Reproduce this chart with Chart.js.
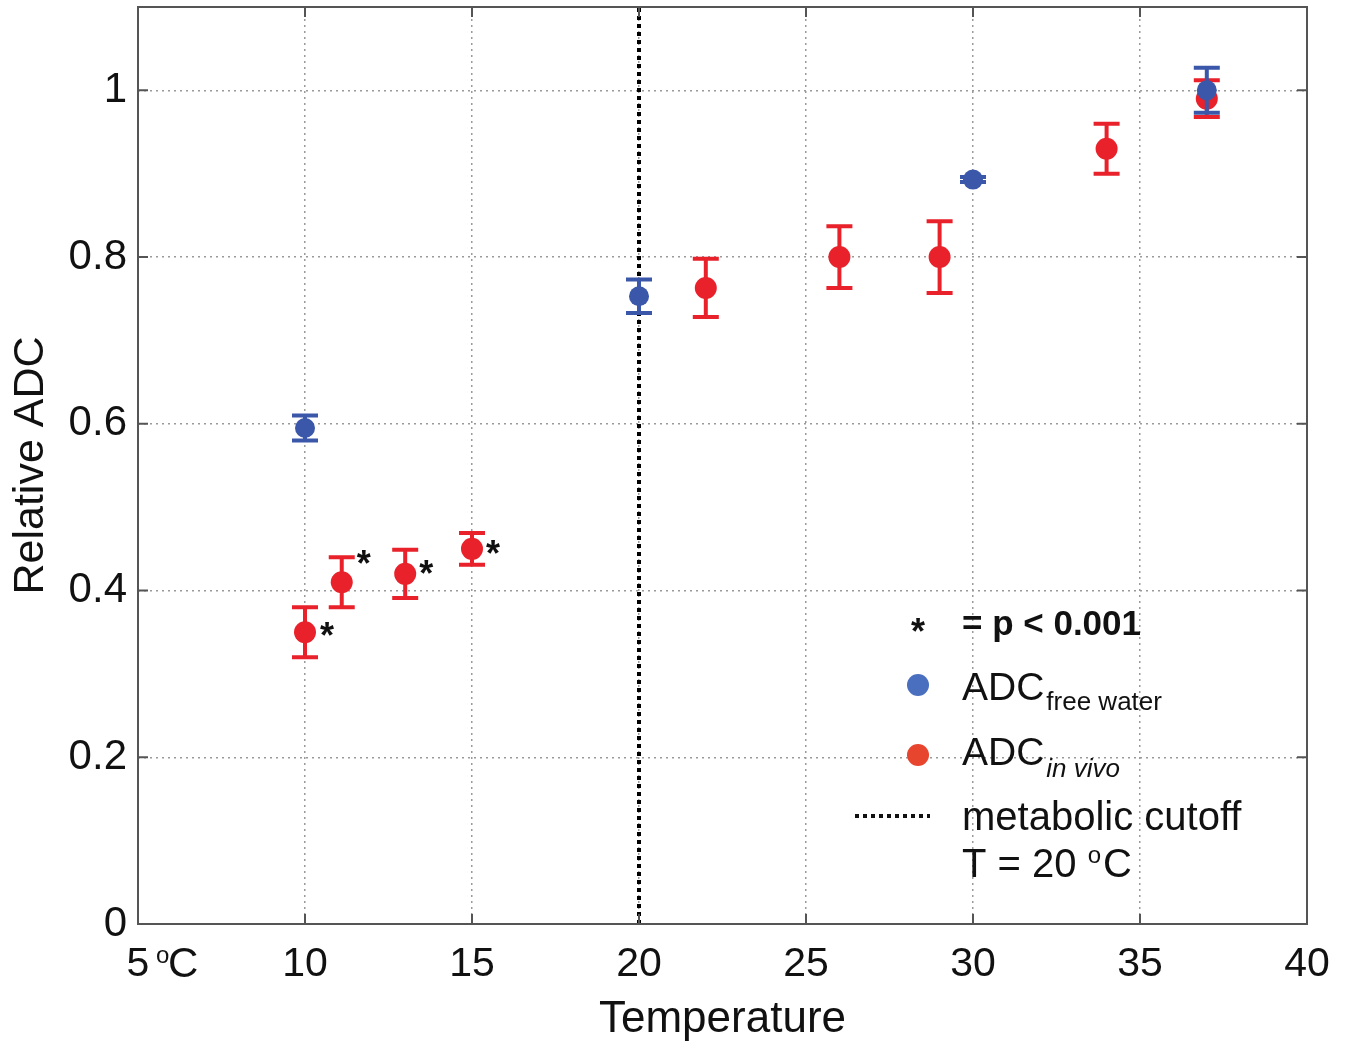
<!DOCTYPE html>
<html>
<head>
<meta charset="utf-8">
<script src="https://cdn.jsdelivr.net/npm/chart.js@4/dist/chart.umd.min.js"></script>
<style>
  html, body { margin: 0; background: #fff; }
</style>
</head>
<body>
<canvas id="chart" width="1348" height="1046"></canvas>
<script>
const FONT = "'Liberation Sans', Arial, sans-serif";

// free water phantom
const freeTemp = [10, 20, 30, 37];
const freeADC = [0.595, 0.753, 0.893, 1.0];
const freeErr = [0.015, 0.02, 0.003, 0.027];

// in vivo
const vivoTemp = [10, 11.1, 13, 15, 22, 26, 29, 34, 37];
const vivoADC = [0.35, 0.41, 0.42, 0.45, 0.763, 0.80, 0.80, 0.93, 0.99];
const vivoErr = [0.03, 0.03, 0.029, 0.019, 0.035, 0.037, 0.043, 0.03, 0.022];
const vivoSig = [true, true, true, true, false, false, false, false, false];

const cutoffTemp = 20;
const xTicks = [5, 10, 15, 20, 25, 30, 35, 40];
const yTicks = [0, 0.2, 0.4, 0.6, 0.8, 1];

const BLUE = '#3a57a9';
const RED = '#e8212a';

// star placement next to the significant points (pixels)
const starOffsets = [[22, -4], [22, -26], [21, -8], [21, -3]];

function toPoints(xs, ys) {
    return xs.map((x, i) => ({ x: x, y: ys[i] }));
}

const noPadding = () => ({ left: 0, top: 0, right: 0, bottom: 0 });

// draw error bars just before each dataset's markers
const errorBars = {
    id: 'errorBars',
    beforeDatasetDraw(chart, args) {
        const ds = chart.data.datasets[args.index];
        if (!ds.errors) return;
        const ctx = chart.ctx;
        const xs = chart.scales.x, ys = chart.scales.y;
        ctx.save();
        ctx.strokeStyle = ds.backgroundColor;
        ctx.lineWidth = 4;
        ds.data.forEach((p, i) => {
            const e = ds.errors[i];
            const px = xs.getPixelForValue(p.x);
            const top = ys.getPixelForValue(p.y + e);
            const bot = ys.getPixelForValue(p.y - e);
            ctx.beginPath();
            ctx.moveTo(px, top); ctx.lineTo(px, bot);
            ctx.moveTo(px - 13, top); ctx.lineTo(px + 13, top);
            ctx.moveTo(px - 13, bot); ctx.lineTo(px + 13, bot);
            ctx.stroke();
        });
        ctx.restore();
    }
};

// frame, tick marks, stars, legend
const decorations = {
    id: 'decorations',
    afterDraw(chart) {
        const ctx = chart.ctx;
        const a = chart.chartArea;
        const xs = chart.scales.x, ys = chart.scales.y;
        ctx.save();

        // box
        ctx.strokeStyle = '#555';
        ctx.lineWidth = 2;
        ctx.strokeRect(a.left, a.top, a.right - a.left, a.bottom - a.top);
        ctx.beginPath();
        yTicks.forEach(v => {
            const py = ys.getPixelForValue(v);
            ctx.moveTo(a.left, py); ctx.lineTo(a.left + 10, py);
            ctx.moveTo(a.right, py); ctx.lineTo(a.right - 10, py);
        });
        xTicks.forEach(v => {
            const px = xs.getPixelForValue(v);
            ctx.moveTo(px, a.bottom); ctx.lineTo(px, a.bottom - 10);
            ctx.moveTo(px, a.top); ctx.lineTo(px, a.top + 10);
        });
        ctx.stroke();

        // significance stars
        ctx.fillStyle = '#111';
        ctx.font = 'bold 36px ' + FONT;
        ctx.textAlign = 'center';
        ctx.textBaseline = 'middle';
        let k = 0;
        vivoTemp.forEach((t, i) => {
            if (!vivoSig[i]) return;
            const off = starOffsets[k++];
            const px = xs.getPixelForValue(t) + off[0];
            const py = ys.getPixelForValue(vivoADC[i]) + off[1];
            ctx.fillText('*', px, py + 10);
        });

        // "oC" after the first x tick
        const x5 = xs.getPixelForValue(5);
        ctx.textAlign = 'left';
        ctx.textBaseline = 'alphabetic';
        ctx.font = '24px ' + FONT;
        ctx.fillText('o', x5 + 18, 963);
        ctx.font = '42px ' + FONT;
        ctx.fillText('C', x5 + 30, 977);

        // legend
        ctx.fillStyle = '#111';
        ctx.font = 'bold 36px ' + FONT;
        ctx.textAlign = 'center';
        ctx.fillText('*', 918, 644);
        ctx.textAlign = 'left';
        ctx.font = 'bold 35px ' + FONT;
        ctx.fillText('= p < 0.001', 962, 635);

        ctx.fillStyle = '#4a6fbf';
        ctx.beginPath(); ctx.arc(918, 685, 11, 0, Math.PI * 2); ctx.fill();
        ctx.fillStyle = '#111';
        ctx.font = '39px ' + FONT;
        ctx.fillText('ADC', 962, 700);
        let w = ctx.measureText('ADC').width;
        ctx.font = '26px ' + FONT;
        ctx.fillText('free water', 962 + w + 2, 710);

        ctx.fillStyle = '#e8452f';
        ctx.beginPath(); ctx.arc(918, 755, 11, 0, Math.PI * 2); ctx.fill();
        ctx.fillStyle = '#111';
        ctx.font = '39px ' + FONT;
        ctx.fillText('ADC', 962, 765);
        ctx.font = 'italic 26px ' + FONT;
        ctx.fillText('in vivo', 962 + w + 2, 777);

        ctx.strokeStyle = '#111';
        ctx.lineWidth = 4;
        ctx.setLineDash([4, 4]);
        ctx.beginPath(); ctx.moveTo(855, 816); ctx.lineTo(930, 816); ctx.stroke();
        ctx.setLineDash([]);

        ctx.font = '40px ' + FONT;
        ctx.fillText('metabolic cutoff', 962, 830);
        ctx.fillText('T = 20 ', 962, 877);
        let w2 = ctx.measureText('T = 20 ').width;
        ctx.font = '24px ' + FONT;
        ctx.fillText('o', 962 + w2, 863);
        let w3 = ctx.measureText('o').width;
        ctx.font = '40px ' + FONT;
        ctx.fillText('C', 962 + w2 + w3 + 2, 877);

        ctx.restore();
    }
};

new Chart(document.getElementById('chart'), {
    type: 'scatter',
    data: {
        datasets: [
            {
                label: 'ADC free water',
                data: toPoints(freeTemp, freeADC),
                errors: freeErr,
                backgroundColor: BLUE,
                borderColor: BLUE,
                pointRadius: 10,
                borderWidth: 0
            },
            {
                label: 'ADC in vivo',
                data: toPoints(vivoTemp, vivoADC),
                errors: vivoErr,
                backgroundColor: RED,
                borderColor: RED,
                pointRadius: 11,
                borderWidth: 0
            },
            {
                label: 'metabolic cutoff',
                data: [{ x: cutoffTemp, y: 0 }, { x: cutoffTemp, y: 1.1 }],
                showLine: true,
                borderColor: '#000',
                borderWidth: 4,
                borderDash: [4, 4],
                pointRadius: 0
            }
        ]
    },
    options: {
        responsive: false,
        animation: false,
        layout: { autoPadding: false, padding: { top: 7, right: 41, left: 0, bottom: 0 } },
        plugins: {
            legend: { display: false },
            tooltip: { enabled: false }
        },
        scales: {
            x: {
                type: 'linear',
                min: 5,
                max: 40,
                afterBuildTicks: s => { s.ticks = xTicks.map(v => ({ value: v })); },
                afterFit: s => { s.height = 122; s.paddingLeft = 0; s.paddingRight = 0; s.getPadding = noPadding; },
                grid: { color: '#9a9a9a', lineWidth: 1.5, drawTicks: false },
                border: { display: false, dash: [2, 4] },
                ticks: {
                    color: '#111',
                    font: { family: FONT, size: 41 },
                    padding: 16,
                    maxRotation: 0,
                    callback: v => String(v)
                },
                title: {
                    display: true,
                    text: 'Temperature',
                    color: '#111',
                    font: { family: FONT, size: 44 },
                    padding: { top: 3, bottom: 0 }
                }
            },
            y: {
                min: 0,
                max: 1.1,
                afterBuildTicks: s => { s.ticks = yTicks.map(v => ({ value: v })); },
                afterFit: s => { s.width = 138; s.paddingTop = 0; s.paddingBottom = 0; s.getPadding = noPadding; },
                grid: { color: '#9a9a9a', lineWidth: 1.5, drawTicks: false },
                border: { display: false, dash: [2, 4] },
                ticks: {
                    color: '#111',
                    font: { family: FONT, size: 42 },
                    padding: 11,
                    callback: v => String(Math.round(v * 10) / 10)
                },
                title: {
                    display: true,
                    text: 'Relative ADC',
                    color: '#111',
                    font: { family: FONT, size: 43 },
                    padding: { top: 5, bottom: 0 }
                }
            }
        }
    },
    plugins: [errorBars, decorations]
});
</script>
</body>
</html>
